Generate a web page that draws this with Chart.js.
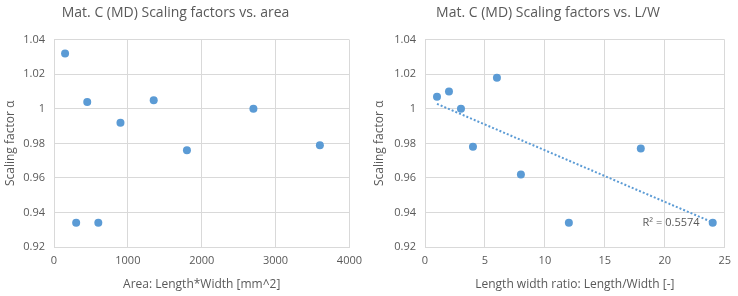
<!DOCTYPE html>
<html>
<head>
<meta charset="utf-8">
<script src="https://cdn.jsdelivr.net/npm/chart.js@4/dist/chart.umd.min.js"></script>
<style>
  body { margin: 0; background: #fff; }
  #wrap { display: flex; width: 738px; height: 296px; }
  canvas { display: block; }
</style>
</head>
<body>
<div id="wrap">
  <canvas id="left" width="369" height="296"></canvas>
  <canvas id="right" width="369" height="296"></canvas>
</div>
<script>
// data
const areaX = [150, 300, 450, 600, 900, 1350, 1800, 2700, 3600]
const areaY = [1.032, 0.934, 1.004, 0.934, 0.992, 1.005, 0.976, 1.000, 0.979]

const ratioX = [1, 2, 3, 4, 6, 8, 12, 18, 24]
const ratioY = [1.007, 1.010, 1.000, 0.978, 1.018, 0.962, 0.934, 0.977, 0.934]

const yTicks = [0.92, 0.94, 0.96, 0.98, 1, 1.02, 1.04]
const r2Label = 'R² = 0.5574'

const blue = '#5B9BD5'
const textCol = '#595959'
const gridCol = '#D9D9D9'
const fam = "'Open Sans', 'Noto Sans', sans-serif"

Chart.defaults.font.family = fam
Chart.defaults.color = textCol

// least squares line for the trendline
function fit (xs, ys) {
  const n = xs.length
  const mx = xs.reduce((a, b) => a + b, 0) / n
  const my = ys.reduce((a, b) => a + b, 0) / n
  let sxy = 0, sxx = 0
  for (let i = 0; i < n; i++) {
    sxy += (xs[i] - mx) * (ys[i] - my)
    sxx += (xs[i] - mx) * (xs[i] - mx)
  }
  const b = sxy / sxx
  return (x) => my + b * (x - mx)
}
const line = fit(ratioX, ratioY)
const xmin = Math.min(...ratioX), xmax = Math.max(...ratioX)
const trend = [{ x: xmin, y: line(xmin) }, { x: xmax, y: line(xmax) }]

function makeOpts (title, xTitle, xMax, xStep, yWidth, rightPad) {
  return {
    responsive: false,
    animation: false,
    devicePixelRatio: 1,
    layout: { padding: { left: 0, right: rightPad, top: 0, bottom: 0 } },
    plugins: {
      legend: { display: false },
      tooltip: { enabled: false },
      title: {
        display: true,
        text: title,
        color: textCol,
        font: { size: 14, weight: 'normal' },
        padding: { top: 5, bottom: 18 }
      }
    },
    scales: {
      x: {
        type: 'linear',
        min: 0,
        max: xMax,
        ticks: { stepSize: xStep, padding: 7, color: textCol, font: { size: 11 }, callback: (v) => String(v) },
        grid: { color: gridCol, drawTicks: false },
        border: { color: gridCol },
        title: { display: true, text: xTitle, color: textCol, font: { size: 12 }, padding: { top: 4, bottom: 4 } },
        afterFit: (s) => { s.height = 49 }
      },
      y: {
        min: 0.92,
        max: 1.04,
        afterBuildTicks: (s) => { s.ticks = yTicks.map((v) => ({ value: v })) },
        ticks: { padding: 9, color: textCol, font: { size: 11 }, callback: (v) => String(+v.toFixed(2)) },
        grid: { color: gridCol, drawTicks: false },
        border: { color: gridCol },
        title: { display: true, text: 'Scaling factor α', color: textCol, font: { size: 12 }, padding: { top: 3, bottom: 0 } },
        afterFit: (s) => { s.width = yWidth }
      }
    }
  }
}

new Chart(document.getElementById('left'), {
  type: 'scatter',
  data: {
    datasets: [{
      data: areaX.map((x, i) => ({ x: x, y: areaY[i] })),
      backgroundColor: blue,
      borderColor: blue,
      pointRadius: 4,
      pointBorderWidth: 0
    }]
  },
  options: makeOpts('Mat. C (MD) Scaling factors vs. area', 'Area: Length*Width [mm^2]', 4000, 1000, 54, 18)
})

const r2Plugin = {
  id: 'r2',
  afterDatasetsDraw (chart) {
    const ctx = chart.ctx
    const x = chart.scales.x.getPixelForValue(22.9)
    const y = chart.scales.y.getPixelForValue(0.934)
    ctx.save()
    ctx.font = '11px ' + fam
    ctx.fillStyle = textCol
    ctx.textAlign = 'right'
    ctx.textBaseline = 'middle'
    ctx.fillText(r2Label, x, y)
    ctx.restore()
  }
}

new Chart(document.getElementById('right'), {
  type: 'scatter',
  data: {
    datasets: [{
      data: ratioX.map((x, i) => ({ x: x, y: ratioY[i] })),
      backgroundColor: blue,
      borderColor: blue,
      pointRadius: 4,
      pointBorderWidth: 0,
      order: 1
    }, {
      type: 'line',
      data: trend,
      borderColor: blue,
      borderWidth: 2,
      borderDash: [2, 2],
      pointRadius: 0,
      fill: false,
      order: 2
    }]
  },
  options: makeOpts('Mat. C (MD) Scaling factors vs. L/W', 'Length width ratio: Length/Width [-]', 25, 5, 56, 11),
  plugins: [r2Plugin]
})
</script>
</body>
</html>
